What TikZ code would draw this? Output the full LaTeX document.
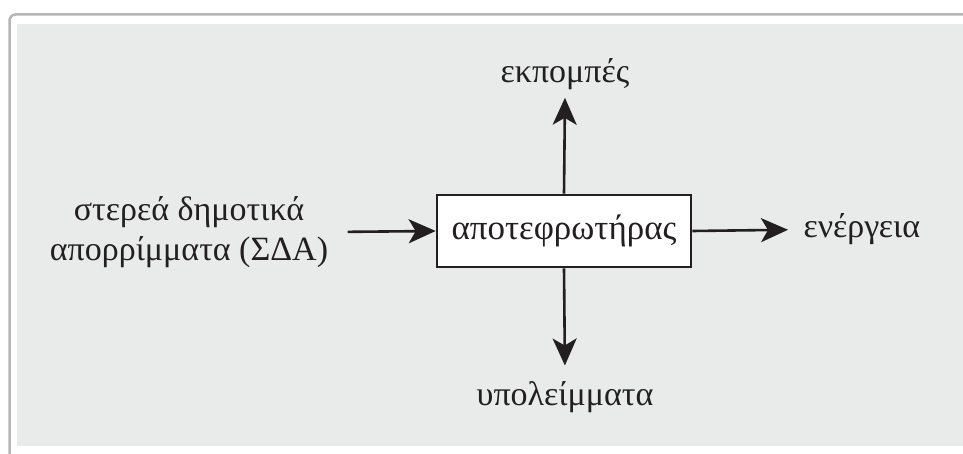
\documentclass[tikz,border=0pt]{standalone}
\usepackage{fontspec}
\setmainfont{Liberation Serif}
\usetikzlibrary{positioning,arrows.meta}

\definecolor{panelgray}{HTML}{E8EBEA}
\definecolor{framegray}{HTML}{B6B6B6}
\definecolor{inkgray}{HTML}{231F20}

\tikzset{
  flowarrow/.style={draw=inkgray, line width=2.6pt, -{Stealth[length=27pt,width=24pt,inset=7pt]}},
  flowlabel/.style={text=inkgray, font=\fontsize{34}{40}\selectfont, align=center}
}

\begin{document}
\begin{tikzpicture}[x=1pt,y=-1pt]
\useasboundingbox (0,0) rectangle (963,454);
\clip (0,0) rectangle (963,454);
\draw [framegray, line width=2.5pt, fill=white, rounded corners=6pt] (9.5,14.5) rectangle (990,480);
\fill [panelgray] (17,24) rectangle (963,446);

\node (incin) [rectangle, draw=inkgray, fill=white, line width=2.6pt, minimum width=254pt, minimum height=72pt, flowlabel, font=\fontsize{35}{40}\selectfont] at (564,231) {αποτεφρωτήρας};

\node (emis) [flowlabel, anchor=base] at (565,83) {εκπομπές};
\node (resid) [flowlabel, anchor=base] at (565,405) {υπολείμματα};
\node (energy) [flowlabel, anchor=base west] at (800,238) {ενέργεια};
\node (msw) [flowlabel] at (189,232) {στερεά δημοτικά\\απορρίμματα (ΣΔΑ)};

\draw [flowarrow, shorten >=4pt] (incin.north) -- (emis.south);
\draw [flowarrow, shorten >=12pt] (incin.south) -- (resid.north);
\draw [flowarrow, shorten >=12pt] (incin.east) -- (energy.west);
\draw [flowarrow, shorten <=16pt] (msw.east) -- (incin.west);
\end{tikzpicture}
\end{document}
